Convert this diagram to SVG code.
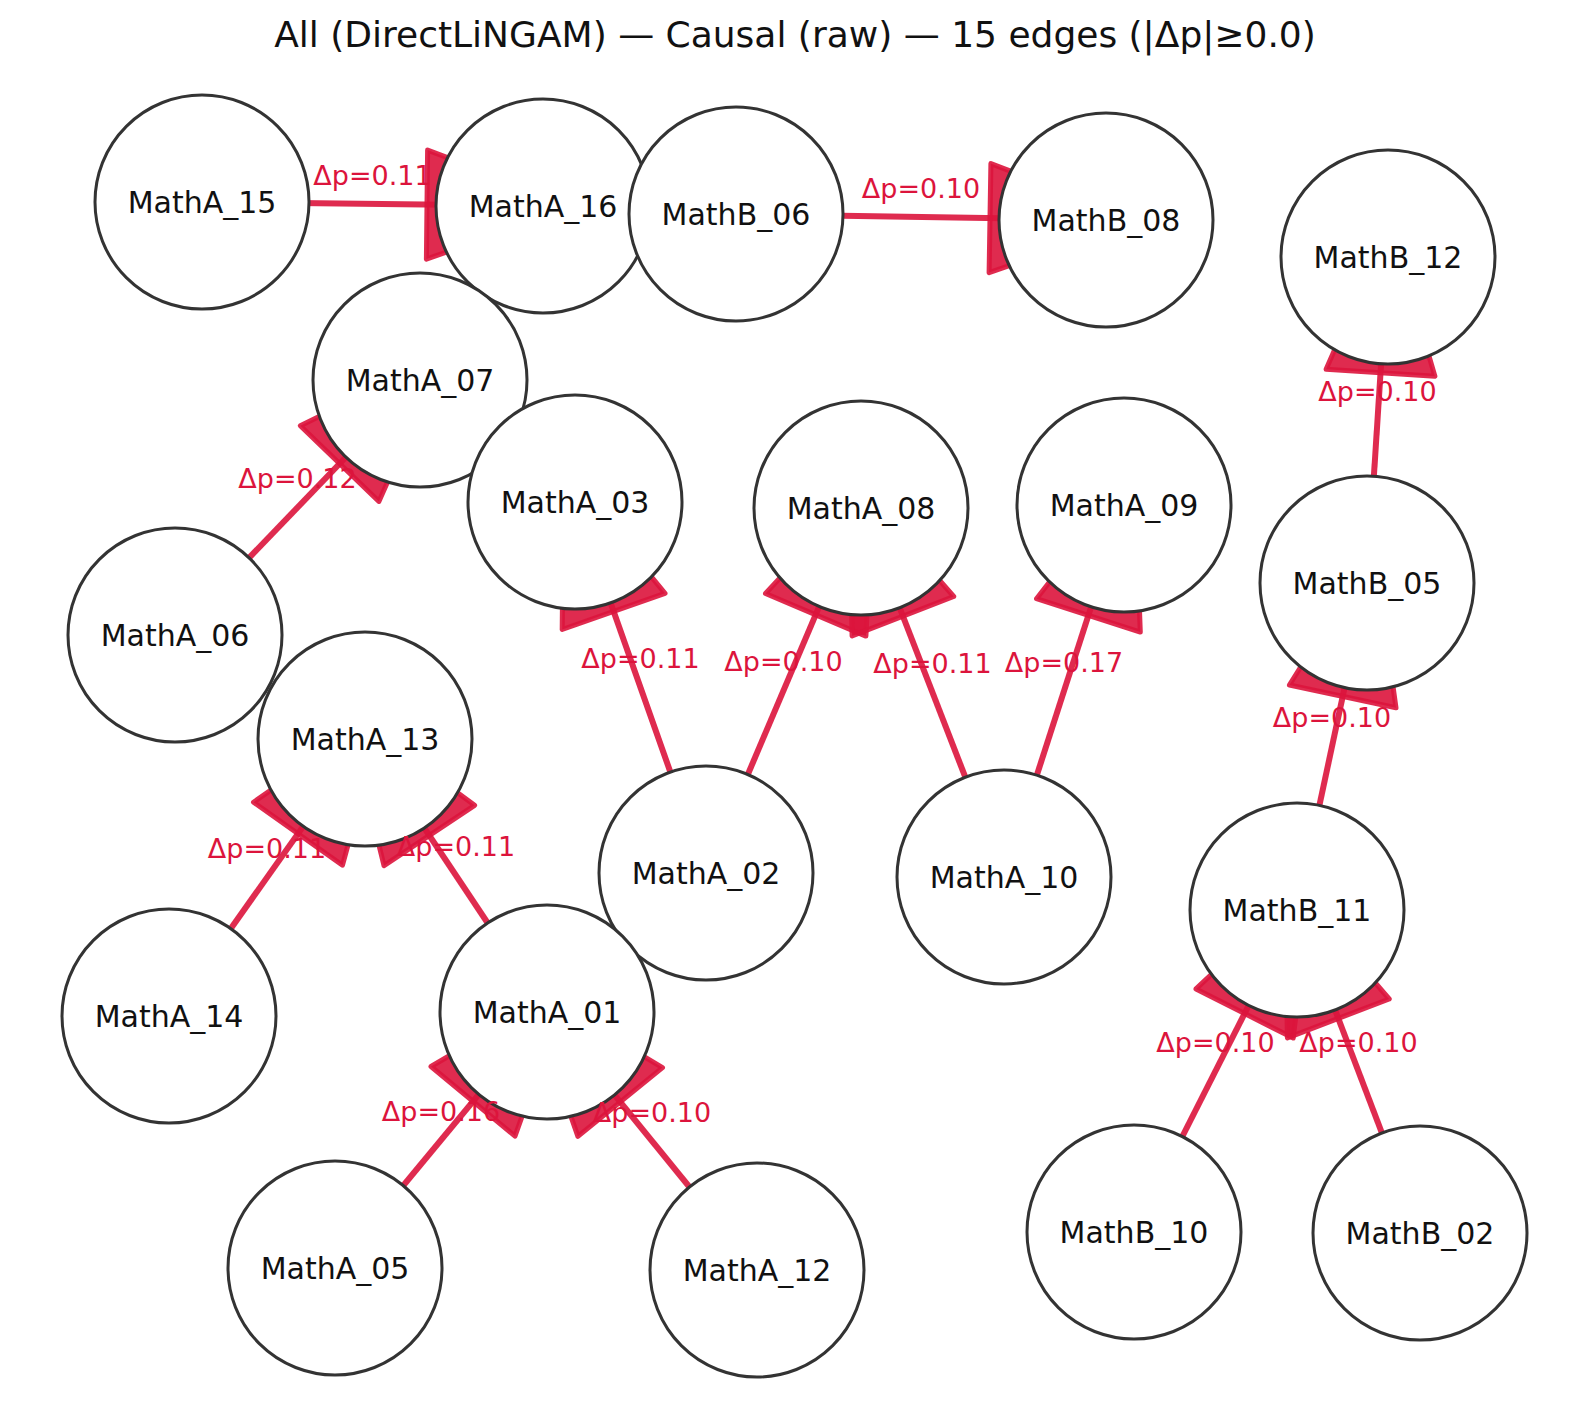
<svg xmlns="http://www.w3.org/2000/svg" width="1589" height="1419" viewBox="0 0 1589 1419">
<style>
.bg{fill:#ffffff}
.title{font-family:"DejaVu Sans","Liberation Sans",sans-serif;font-size:36px;fill:#111111;text-anchor:middle}
.node circle{fill:#ffffff;stroke:#333333;stroke-width:3}
.node text{font-family:"DejaVu Sans","Liberation Sans",sans-serif;font-size:30px;fill:#111111;text-anchor:middle}
.edge line{stroke:#DC143C;stroke-opacity:0.9;stroke-width:6}
.edge polygon{fill:#DC143C;fill-opacity:0.9;stroke:#DC143C;stroke-opacity:0.9;stroke-width:5;stroke-linejoin:round}
.elabel{font-family:"DejaVu Sans","Liberation Sans",sans-serif;font-size:27px;fill:#DC143C;text-anchor:middle}
</style>
<rect class="bg" x="0" y="0" width="1589" height="1419"/>
<text class="title" x="795" y="47">All (DirectLiNGAM) — Causal (raw) — 15 edges (|Δp|≥0.0)</text>
<g id="connectors">
<g class="edge" id="e_A15_A16"><line x1="202" y1="202" x2="543" y2="206"/><polygon points="426.4,259.1 427.6,150.1 577,206.4"/></g>
<g class="edge" id="e_B06_B08"><line x1="736" y1="214" x2="1106" y2="220"/><polygon points="989.1,272.6 990.9,163.6 1140,220.6"/></g>
<g class="edge" id="e_B05_B12"><line x1="1367" y1="583" x2="1388" y2="257"/><polygon points="1434.9,376.3 1326.1,369.3 1390.2,223.1"/></g>
<g class="edge" id="e_A06_A07"><line x1="175" y1="635" x2="420" y2="380"/><polygon points="378.9,501.4 300.3,425.8 443.6,355.5"/></g>
<g class="edge" id="e_A02_A03"><line x1="706" y1="873" x2="575" y2="502"/><polygon points="665,593.3 562.2,629.5 563.7,469.9"/></g>
<g class="edge" id="e_A02_A08"><line x1="706" y1="873" x2="861" y2="508"/><polygon points="865.9,636.1 765.5,593.5 874.3,476.7"/></g>
<g class="edge" id="e_A10_A08"><line x1="1004" y1="877" x2="861" y2="508"/><polygon points="953.7,596.5 852.1,635.9 848.7,476.3"/></g>
<g class="edge" id="e_A10_A09"><line x1="1004" y1="877" x2="1124" y2="505"/><polygon points="1140.3,632.1 1036.5,598.7 1134.4,472.6"/></g>
<g class="edge" id="e_B11_B05"><line x1="1297" y1="910" x2="1367" y2="583"/><polygon points="1396,707.8 1289.4,685 1374.1,549.8"/></g>
<g class="edge" id="e_A14_A13"><line x1="169" y1="1016" x2="365" y2="739"/><polygon points="342.5,865.2 253.5,802.2 384.6,711.2"/></g>
<g class="edge" id="e_A01_A13"><line x1="547" y1="1012" x2="365" y2="739"/><polygon points="474.6,805.3 384,865.7 346.1,710.7"/></g>
<g class="edge" id="e_A05_A01"><line x1="335" y1="1268" x2="547" y2="1012"/><polygon points="515,1136.1 431,1066.5 568.7,985.8"/></g>
<g class="edge" id="e_A12_A01"><line x1="757" y1="1270" x2="547" y2="1012"/><polygon points="662.5,1067.6 577.9,1136.4 525.5,985.6"/></g>
<g class="edge" id="e_B10_B11"><line x1="1134" y1="1232" x2="1297" y2="910"/><polygon points="1293.2,1038.1 1196,988.9 1312.4,879.7"/></g>
<g class="edge" id="e_B02_B11"><line x1="1420" y1="1233" x2="1297" y2="910"/><polygon points="1389.2,999 1287.4,1037.8 1284.9,878.2"/></g>
</g>
<g id="nodes">
<g class="node" id="MathA_15"><circle cx="202" cy="202" r="107"/><text x="202" y="213">MathA_15</text></g>
<g class="node" id="MathA_16"><circle cx="543" cy="206" r="107"/><text x="543" y="217">MathA_16</text></g>
<g class="node" id="MathB_06"><circle cx="736" cy="214" r="107"/><text x="736" y="225">MathB_06</text></g>
<g class="node" id="MathB_08"><circle cx="1106" cy="220" r="107"/><text x="1106" y="231">MathB_08</text></g>
<g class="node" id="MathB_12"><circle cx="1388" cy="257" r="107"/><text x="1388" y="268">MathB_12</text></g>
<g class="node" id="MathA_07"><circle cx="420" cy="380" r="107"/><text x="420" y="391">MathA_07</text></g>
<g class="node" id="MathA_03"><circle cx="575" cy="502" r="107"/><text x="575" y="513">MathA_03</text></g>
<g class="node" id="MathA_08"><circle cx="861" cy="508" r="107"/><text x="861" y="519">MathA_08</text></g>
<g class="node" id="MathA_09"><circle cx="1124" cy="505" r="107"/><text x="1124" y="516">MathA_09</text></g>
<g class="node" id="MathB_05"><circle cx="1367" cy="583" r="107"/><text x="1367" y="594">MathB_05</text></g>
<g class="node" id="MathA_06"><circle cx="175" cy="635" r="107"/><text x="175" y="646">MathA_06</text></g>
<g class="node" id="MathA_13"><circle cx="365" cy="739" r="107"/><text x="365" y="750">MathA_13</text></g>
<g class="node" id="MathA_02"><circle cx="706" cy="873" r="107"/><text x="706" y="884">MathA_02</text></g>
<g class="node" id="MathA_10"><circle cx="1004" cy="877" r="107"/><text x="1004" y="888">MathA_10</text></g>
<g class="node" id="MathB_11"><circle cx="1297" cy="910" r="107"/><text x="1297" y="921">MathB_11</text></g>
<g class="node" id="MathA_14"><circle cx="169" cy="1016" r="107"/><text x="169" y="1027">MathA_14</text></g>
<g class="node" id="MathA_01"><circle cx="547" cy="1012" r="107"/><text x="547" y="1023">MathA_01</text></g>
<g class="node" id="MathA_05"><circle cx="335" cy="1268" r="107"/><text x="335" y="1279">MathA_05</text></g>
<g class="node" id="MathA_12"><circle cx="757" cy="1270" r="107"/><text x="757" y="1281">MathA_12</text></g>
<g class="node" id="MathB_10"><circle cx="1134" cy="1232" r="107"/><text x="1134" y="1243">MathB_10</text></g>
<g class="node" id="MathB_02"><circle cx="1420" cy="1233" r="107"/><text x="1420" y="1244">MathB_02</text></g>
</g>
<g id="edge-labels">
<text class="elabel" x="372.5" y="185">Δp=0.11</text>
<text class="elabel" x="921" y="198">Δp=0.10</text>
<text class="elabel" x="1377.5" y="401">Δp=0.10</text>
<text class="elabel" x="297.5" y="488">Δp=0.12</text>
<text class="elabel" x="640.5" y="668">Δp=0.11</text>
<text class="elabel" x="783.5" y="671">Δp=0.10</text>
<text class="elabel" x="932.5" y="673">Δp=0.11</text>
<text class="elabel" x="1064" y="672">Δp=0.17</text>
<text class="elabel" x="1332" y="727">Δp=0.10</text>
<text class="elabel" x="267" y="858">Δp=0.11</text>
<text class="elabel" x="456" y="856">Δp=0.11</text>
<text class="elabel" x="441" y="1121">Δp=0.16</text>
<text class="elabel" x="652" y="1122">Δp=0.10</text>
<text class="elabel" x="1215.5" y="1052">Δp=0.10</text>
<text class="elabel" x="1358.5" y="1052">Δp=0.10</text>
</g>
</svg>
